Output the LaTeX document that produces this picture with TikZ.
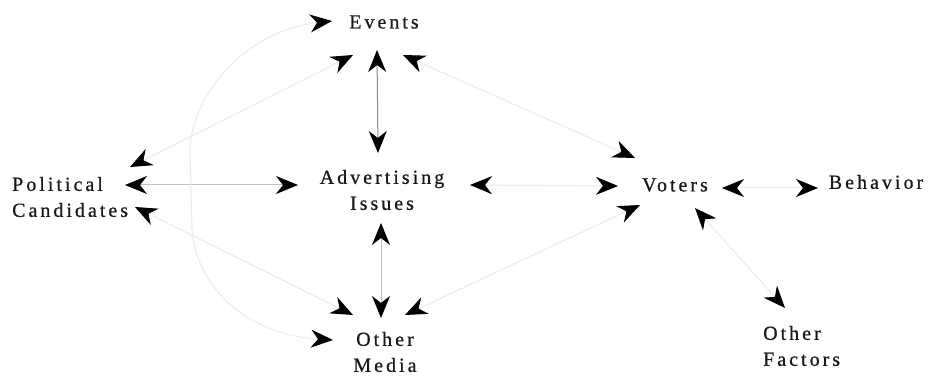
\documentclass[tikz,border=0pt]{standalone}
\usepackage{fontspec}
\setmainfont{Liberation Serif}[LetterSpace=15,FakeBold=0.6]
\usetikzlibrary{arrows.meta}
\tikzset{
  lbl/.style={font=\fontsize{20}{26}\selectfont, inner sep=0pt, align=center, text=black!90},
  tipA/.tip={Stealth[length=22pt,width=18pt,inset=7pt,color=black]},
  conn/.style={line width=1pt, tipA-tipA},
  strong/.style={draw=black!45},
  mid/.style={draw=black!25},
  faint/.style={draw=black!8}
}
\begin{document}
\begin{tikzpicture}[x=1pt,y=-1pt]
\useasboundingbox (0,0) rectangle (930,377);
\fill[white] (0,0) rectangle (930,377);
% nodes
\node[lbl] (ev) at (384,22) {Events};
\node[lbl,align=left,anchor=west] (pc) at (12,197) {Political\\Candidates};
\node[lbl] (adv) at (382,190) {Advertising\\Issues};
\node[lbl] (vo) at (675,185) {Voters};
\node[lbl] (be) at (876,182) {Behavior};
\node[lbl] (om) at (385,352) {Other\\Media};
\node[lbl,align=left,anchor=west] (of) at (763,346) {Other\\Factors};
% connector end points
\coordinate (evL) at (332,21);
\coordinate (evSW) at (353,55);
\coordinate (evS) at (377,50);
\coordinate (evSE) at (403,55);
\coordinate (advN) at (378,153);
\coordinate (advS) at (381,223);
\coordinate (advW) at (298,185);
\coordinate (advE) at (470,185);
\coordinate (omN) at (381,318);
\coordinate (omNW) at (353,315);
\coordinate (omNE) at (405,315);
\coordinate (omL) at (333,340);
\coordinate (pcNE) at (130,167);
\coordinate (pcE) at (125,185);
\coordinate (pcSE) at (135,207);
\coordinate (voNW) at (635,158);
\coordinate (voW) at (618,186);
\coordinate (voSW) at (640,205);
\coordinate (voSE) at (695,208);
\coordinate (voE) at (722,188);
\coordinate (beW) at (818,188);
\coordinate (ofN) at (785,308);
% connectors
\draw[conn,strong] (evS) -- (advN);
\draw[conn,mid] (advS) -- (omN);
\draw[conn,mid] (pcE) -- (advW);
\draw[conn,faint] (pcNE) -- (evSW);
\draw[conn,faint] (pcSE) -- (omNW);
\draw[conn,faint] (evSE) -- (voNW);
\draw[conn,faint] (omNE) -- (voSW);
\draw[conn,faint] (advE) -- (voW);
\draw[conn,faint] (voE) -- (beW);
\draw[conn,faint] (voSE) -- (ofN);
\draw[conn,faint] (evL) .. controls (250,30) and (192,90) .. (190,150)
  -- (192,228) .. controls (196,290) and (250,335) .. (omL);
\end{tikzpicture}
\end{document}
